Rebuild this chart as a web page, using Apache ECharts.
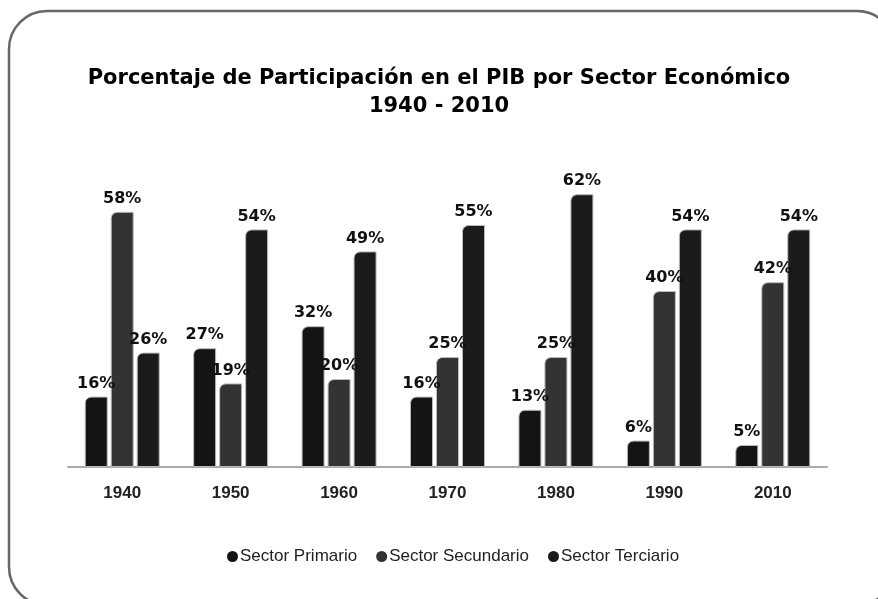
<!DOCTYPE html>
<html>
<head>
<meta charset="utf-8">
<script src="https://cdn.jsdelivr.net/npm/echarts@6/dist/echarts.min.js"></script>
<style>
  html, body { margin: 0; padding: 0; background: #fff; }
  #chart { width: 878px; height: 599px; }
</style>
</head>
<body>
<div id="chart"></div>
<script>
var years = ['1940', '1950', '1960', '1970', '1980', '1990', '2010'];
var primario = [16, 27, 32, 16, 13, 6, 5];
var secundario = [58, 19, 20, 25, 25, 40, 42];
var terciario = [26, 54, 49, 55, 62, 54, 54];

var chart = echarts.init(document.getElementById('chart'));

function barSeries(name, data, color) {
  return {
    name: name,
    type: 'bar',
    data: data,
    barWidth: 23,
    barGap: '13%',
    itemStyle: {
      color: color,
      borderColor: '#bbb',
      borderWidth: 1,
      borderRadius: [6, 0, 0, 0]
    },
    label: {
      show: true,
      position: 'top',
      distance: 5,
      formatter: '{c}%',
      color: '#111',
      fontFamily: 'DejaVu Sans',
      fontWeight: 'bold',
      fontSize: 16
    }
  };
}

var option = {
  backgroundColor: '#fff',
  animation: false,
  graphic: [{
    type: 'rect',
    shape: { x: 9, y: 11, width: 886, height: 594, r: 38 },
    style: { fill: 'none', stroke: '#666', lineWidth: 2.5 },
    z: -1
  }],
  title: {
    text: 'Porcentaje de Participación en el PIB por Sector Económico\n1940 - 2010',
    left: 'center',
    top: 60,
    textStyle: {
      fontFamily: 'DejaVu Sans',
      fontWeight: 'bold',
      fontSize: 21,
      lineHeight: 28,
      color: '#000'
    }
  },
  legend: {
    left: 222,
    top: 543,
    icon: 'circle',
    itemWidth: 11,
    itemHeight: 11,
    itemGap: 19,
    itemStyle: { borderWidth: 0 },
    textStyle: {
      fontFamily: 'Liberation Sans',
      fontSize: 17,
      color: '#222',
      padding: [0, 0, 0, -3]
    },
    data: ['Sector Primario', 'Sector Secundario', 'Sector Terciario']
  },
  grid: { left: 68, right: 51, top: 159, bottom: 132 },
  xAxis: {
    type: 'category',
    data: years,
    axisLine: { lineStyle: { color: '#aaa', width: 2 } },
    axisTick: { show: false },
    axisLabel: {
      margin: 18,
      color: '#222',
      fontFamily: 'Liberation Sans',
      fontWeight: 'bold',
      fontSize: 17
    }
  },
  yAxis: {
    type: 'value',
    min: 0,
    max: 70,
    show: false,
    splitLine: { show: false }
  },
  series: [
    barSeries('Sector Primario', primario, '#141414'),
    barSeries('Sector Secundario', secundario, '#333333'),
    barSeries('Sector Terciario', terciario, '#1b1b1b')
  ]
};

chart.setOption(option);
window.addEventListener('resize', function () { chart.resize(); });
</script>
</body>
</html>
